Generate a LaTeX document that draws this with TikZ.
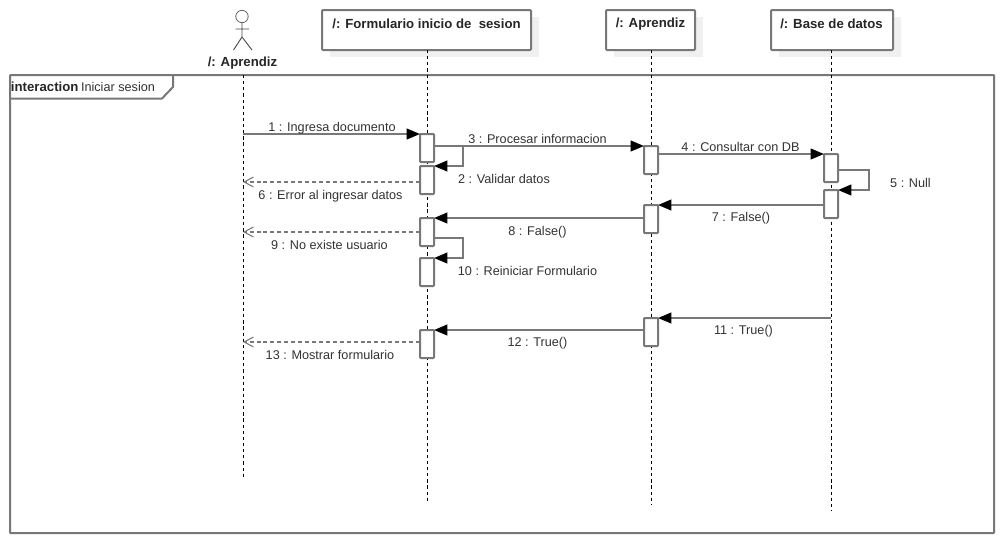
\documentclass[tikz,border=0pt]{standalone}
\usepackage{fontspec}
\setmainfont{Liberation Sans}
\usetikzlibrary{arrows.meta}
\definecolor{uml}{gray}{0.47}
\definecolor{shadowgray}{gray}{0.94}
\tikzset{
  x=0.75pt,y=-0.75pt,
  every node/.style={font=\fontsize{9.5}{11}\selectfont,text=black!80,inner sep=0pt,outer sep=0pt},
  obj/.style={draw=uml,line width=1.5pt,rounded corners=0.8pt,fill=white},
  objtext/.style={font=\fontsize{9.9}{11}\selectfont\bfseries,text=black!85},
  act/.style={draw=uml,line width=1.5pt,rounded corners=0.6pt,fill=white,minimum width=10.5pt,minimum height=21pt},
  life/.style={draw=black,line width=0.7pt,dash pattern=on 2.4pt off 2.2pt},
  msg/.style={draw=uml,line width=1.5pt,-{Triangle[black,length=10pt,width=8pt]}},
  ret/.style={draw=uml,line width=1.4pt,dash pattern=on 3pt off 2.2pt,-{Straight Barb[uml,length=7pt,width=7.5pt,line width=0.8pt]}},
  lab/.style={anchor=center}
}
\newcommand{\objbox}[5]{% name, x0, y0, x1, y1
  \fill[shadowgray] (#2+8,#3+7) rectangle (#4+8,#5+7);
  \path (#2,#3) coordinate (#1nw) (#4,#5) coordinate (#1se);
  \draw[obj] (#1nw) rectangle (#1se);
}
\begin{document}
\begin{tikzpicture}
\useasboundingbox (0,0) rectangle (1004,544);
\fill[white] (0,0) rectangle (1004,544);
% object boxes
\objbox{fo}{322}{10}{531}{50}
\objbox{ap}{606}{10}{695}{50}
\objbox{db}{771}{10}{893}{50}
\node[objtext] (ftxt) at (426.5,24) {/: Formulario inicio de\ \ sesion};
\node[objtext] (atxt) at (650.5,24) {/: Aprendiz};
\node[objtext] (dtxt) at (831.5,24) {/: Base de datos};
% frame
\draw[uml,line width=1.5pt,rounded corners=0.5pt] (10,75) rectangle (994,533);
\draw[uml,line width=1.5pt] (10,98.5) -- (162,98.5) -- (173,87) -- (173,75);
\node[anchor=west,font=\fontsize{9.9}{11}\selectfont\bfseries,text=black!85] (kw) at (11,86.5) {interaction};
\node[anchor=west] (nm) at (81,86.5) {Iniciar sesion};
% actor
\draw[black!60,line width=0.6pt] (242,16.5) circle (6.2);
\draw[black!70,line width=0.7pt] (242,22.5) -- (242,37) (235.5,29) -- (249,29) (233.5,50) -- (242,37) -- (252,50);
\node[objtext] (atop) at (242.5,63.5) {/: Aprendiz};
% lifelines
\coordinate (l0a) at (243,75); \coordinate (l0b) at (243,479);
\coordinate (l1a) at (427,50); \coordinate (l1b) at (427,503);
\coordinate (l2a) at (651,50); \coordinate (l2b) at (651,504);
\coordinate (l3a) at (831,50); \coordinate (l3b) at (831,511);
\draw[life] (l0a) -- (l0b);
\draw[life] (l1a) -- (l1b);
\draw[life] (l2a) -- (l2b);
\draw[life] (l3a) -- (l3b);
% activations
\node[act] (f1) at (427,148) {};
\node[act] (f2) at (427,180) {};
\node[act] (f3) at (427,232) {};
\node[act] (f4) at (427,272) {};
\node[act] (f5) at (427,344) {};
\node[act] (a1) at (651,160) {};
\node[act] (a2) at (651,219) {};
\node[act] (a3) at (651,332) {};
\node[act] (d1) at (831,168) {};
\node[act] (d2) at (831,204) {};
% free ends on the actor lifeline
\coordinate (u1) at (243,134);
\coordinate (u6) at (243,182);
\coordinate (u9) at (243,232);
\coordinate (u13) at (243,342);
\coordinate (s3) at (463,146);
% messages
\draw[msg] (u1) -- (f1.north west);
\draw[msg] (f1.east |- s3) -- (a1.north west);
\draw[msg] (f1.east |- s3) -- (s3) -- (s3 |- f2.north) -- (f2.north east);
\draw[msg] (a1.east |- 0,154) -- (d1.north west);
\draw[msg] (d1.east |- 0,170) -- (869,170) -- (869,190) -- (d2.north east);
\draw[ret] (f2.west |- u6) -- (u6);
\draw[msg] (d2.west |- a2.north) -- (a2.north east);
\draw[msg] (a2.west |- f3.north) -- (f3.north east);
\draw[ret] (f3.west |- u9) -- (u9);
\draw[msg] (f3.east |- 0,238) -- (463,238) -- (463,258) -- (f4.north east);
\draw[msg] (l3a |- a3.north) -- (a3.north east);
\draw[msg] (a3.west |- f5.north) -- (f5.north east);
\draw[ret] (f5.west |- u13) -- (u13);
% labels
\node[lab] (m1) at (332,128) {1 : Ingresa documento};
\node[lab] (m3) at (537.5,139) {3 : Procesar informacion};
\node[lab] (m2) at (504,178.5) {2 : Validar datos};
\node[lab] (m4) at (740.5,147) {4 : Consultar con DB};
\node[lab] (m5) at (910.5,182.5) {5 : Null};
\node[lab] (m6) at (330.5,196) {6 : Error al ingresar datos};
\node[lab] (m7) at (741,218) {7 : False()};
\node[lab] (m8) at (537.5,232) {8 : False()};
\node[lab] (m9) at (329.5,245) {9 : No existe usuario};
\node[lab] (m10) at (527.5,271) {10 : Reiniciar Formulario};
\node[lab] (m11) at (743.5,331.5) {11 : True()};
\node[lab] (m12) at (537.5,343) {12 : True()};
\node[lab] (m13) at (330,355) {13 : Mostrar formulario};
\end{tikzpicture}
\end{document}
